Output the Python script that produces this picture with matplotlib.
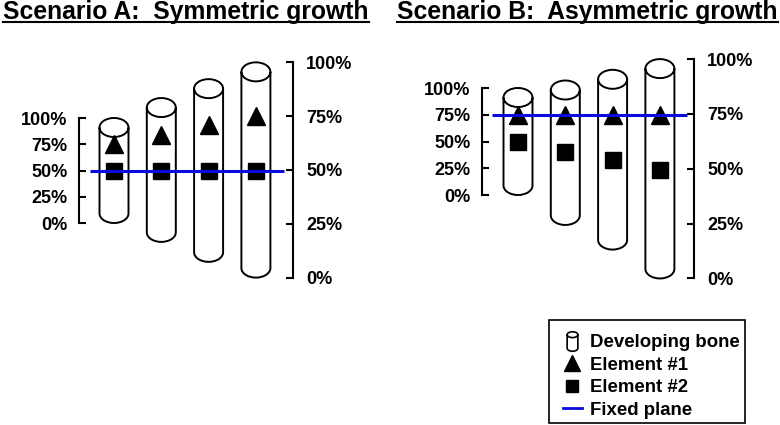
import matplotlib
matplotlib.use('Agg')
import matplotlib.pyplot as plt
from matplotlib.path import Path
from matplotlib.patches import PathPatch, Rectangle
from matplotlib.lines import Line2D
import numpy as np

plt.rcParams['font.family'] = ['Liberation Sans', 'DejaVu Sans']
plt.rcParams['font.weight'] = 'bold'

W, H = 780, 425

# ---------------- data (positions in % of the first bone's length) ----------------
bones = [1, 2, 3, 4]
pct_ticks = [0, 25, 50, 75, 100]
pct_labels = ['0%', '25%', '50%', '75%', '100%']

a_bottom = [0, -18, -37, -52]
a_top = [100, 119, 137, 153]
a_el1 = [75, 84, 93, 102]
a_el2 = [50, 50, 50, 50]
a_plane = 50

b_bottom = [0, -28, -51, -78]
b_top = [100, 107, 117, 127]
b_el1 = [75, 75, 75, 75]
b_el2 = [50, 40, 33, 23]
b_plane = 75

titles = ['Scenario A:  Symmetric growth', 'Scenario B:  Asymmetric growth']
legend_labels = ['Developing bone', 'Element #1', 'Element #2', 'Fixed plane']

BLUE = '#0A0ADC'


def cylinder_path(xc, bottom, top, hw, ry):
    yt = top - ry
    yb = bottom + ry
    verts, codes = [], []
    verts.append((xc - hw, yt)); codes.append(Path.MOVETO)
    verts.append((xc - hw, yb)); codes.append(Path.LINETO)
    arc = Path.arc(180, 360)
    for v, c in zip(arc.vertices[1:], arc.codes[1:]):
        verts.append((xc + hw * v[0], yb + ry * v[1])); codes.append(c)
    verts.append((xc + hw, yt)); codes.append(Path.LINETO)
    arc = Path.arc(0, 180)
    for v, c in zip(arc.vertices[1:], arc.codes[1:]):
        verts.append((xc + hw * v[0], yt + ry * v[1])); codes.append(c)
    verts.append((xc - hw, yt)); codes.append(Path.CLOSEPOLY)
    arc = Path.arc(180, 360)
    for v, c in zip(arc.vertices, arc.codes):
        verts.append((xc + hw * v[0], yt + ry * v[1])); codes.append(c)
    return Path(verts, codes)


fig = plt.figure(figsize=(W / 100, H / 100), dpi=100)

panels = [
    dict(x0=0, x1=390, xc1=114, dx=47.3, y0=223, scale=1.05, lsp=79, rsp=293,
         line=(90, 284), bottom=a_bottom, top=a_top, el1=a_el1, el2=a_el2,
         plane=a_plane, tx=3, title=titles[0]),
    dict(x0=390, x1=780, xc1=518, dx=47.3, y0=195, scale=1.07, lsp=482, rsp=694,
         line=(492, 687), bottom=b_bottom, top=b_top, el1=b_el1, el2=b_el2,
         plane=b_plane, tx=397, title=titles[1]),
]

AX_TOP, AX_BOT = 30, 300
title_texts = []
for p in panels:
    ax = fig.add_axes([p['x0'] / W, 1 - AX_BOT / H, (p['x1'] - p['x0']) / W, (AX_BOT - AX_TOP) / H])
    px2x = lambda px, p=p: 1 + (px - p['xc1']) / p['dx']
    ax.set_xlim(px2x(p['x0']), px2x(p['x1']))
    ylim = ((p['y0'] - AX_BOT) / p['scale'], (p['y0'] - AX_TOP) / p['scale'])
    ax.set_ylim(*ylim)
    ax.patch.set_visible(False)

    hw = 14.5 / p['dx']
    ry = 9.5 / p['scale']
    for i, xc in enumerate(bones):
        ax.add_patch(PathPatch(cylinder_path(xc, p['bottom'][i], p['top'][i], hw, ry),
                               facecolor='white', edgecolor='black', lw=1.4, zorder=2))
    ax.plot(bones, p['el1'], ls='none', marker='^', ms=13.5, color='black', zorder=3)
    ax.plot(bones, p['el2'], ls='none', marker='s', ms=11.5, color='black', zorder=3)
    ax.hlines(p['plane'], px2x(p['line'][0]), px2x(p['line'][1]), color=BLUE, lw=2.2, zorder=4)

    for s in ['top', 'bottom', 'right']:
        ax.spines[s].set_visible(False)
    ax.spines['left'].set_position(('data', px2x(p['lsp'])))
    ax.spines['left'].set_bounds(pct_ticks[0], pct_ticks[-1])
    ax.spines['left'].set_linewidth(1.5)
    ax.set_xticks([])
    ax.set_yticks(pct_ticks)
    ax.set_yticklabels(pct_labels)
    ax.tick_params(axis='y', direction='in', length=5, width=1.5, pad=8.4, labelsize=13)

    ax2 = ax.twinx()
    b4, t4 = p['bottom'][-1], p['top'][-1]
    ax2.set_ylim((ylim[0] - b4) / (t4 - b4) * 100, (ylim[1] - b4) / (t4 - b4) * 100)
    for s in ['top', 'bottom', 'left']:
        ax2.spines[s].set_visible(False)
    ax2.spines['right'].set_position(('data', px2x(p['rsp'])))
    ax2.spines['right'].set_bounds(pct_ticks[0], pct_ticks[-1])
    ax2.spines['right'].set_linewidth(1.5)
    ax2.set_yticks(pct_ticks)
    ax2.set_yticklabels(pct_labels)
    ax2.tick_params(axis='y', direction='in', length=5, width=1.5, pad=9.4, labelsize=13)

    t = fig.text(p['tx'] / W, 1 - 19.5 / H, p['title'], fontsize=17.8, fontweight='bold',
                 ha='left', va='baseline')
    title_texts.append(t)

# legend
cyl_marker = cylinder_path(0, -1, 1, 0.55, 0.3)
handles = [
    Line2D([], [], ls='none', marker=cyl_marker, ms=14, mfc='white', mec='black', mew=1.2),
    Line2D([], [], ls='none', marker='^', ms=11, color='black'),
    Line2D([], [], ls='none', marker='s', ms=9, color='black'),
    Line2D([], [], color=BLUE, lw=2),
]
leg = fig.legend(handles, legend_labels, loc='upper left',
                 bbox_to_anchor=(563 / W, 1 - 334 / H), bbox_transform=fig.transFigure,
                 frameon=False, borderaxespad=0, borderpad=0,
                 handlelength=1.0, handletextpad=0.43,
                 labelspacing=0.3,
                 prop=dict(size=13.4, weight='bold'))
fig.add_artist(Rectangle((549 / W, 1 - 423 / H), (745 - 549) / W, (423 - 320) / H,
                         transform=fig.transFigure, facecolor='none', edgecolor='black',
                         lw=1.2))

fig.canvas.draw()
for t in title_texts:
    bb = t.get_window_extent()
    fig.add_artist(Line2D([bb.x0 / W, bb.x1 / W], [1 - 22 / H] * 2,
                          transform=fig.transFigure, color='black', lw=1.5))

fig.savefig('out.png', dpi=100)
